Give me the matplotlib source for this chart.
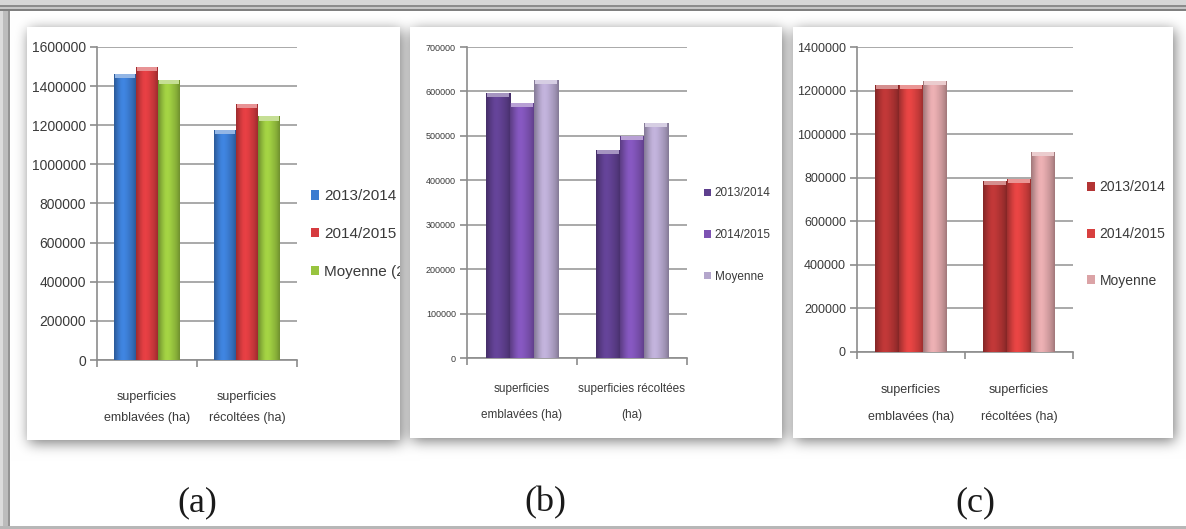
import numpy as np
import matplotlib.pyplot as plt
import matplotlib.colors as mcolors
from matplotlib.patches import Patch, Rectangle

W, H = 1186, 529

SANS = ["Liberation Sans", "DejaVu Sans"]
TEXT_COLOR = "#3a3a3a"
AXIS_COLOR = "#8c8c8c"

series_a = ["2013/2014", "2014/2015", "Moyenne (2010-2015)"]
series_bc = ["2013/2014", "2014/2015", "Moyenne"]

cats_a = ["superficies\nemblavées (ha)", "superficies\nrécoltées (ha)"]
cats_b = ["superficies\nemblavées (ha)", "superficies récoltées\n(ha)"]
cats_c = ["superficies\nemblavées (ha)", "superficies\nrécoltées (ha)"]

# (a)
a_2013 = [1460000, 1175000]
a_2014 = [1500000, 1310000]
a_moy = [1430000, 1245000]
# (b)
b_2013 = [597000, 468000]
b_2014 = [574000, 500000]
b_moy = [625000, 530000]
# (c)
c_2013 = [1225000, 785000]
c_2014 = [1225000, 795000]
c_moy = [1245000, 920000]

yticks_a = list(range(0, 1600001, 200000))
yticks_b = list(range(0, 700001, 100000))
yticks_c = list(range(0, 1400001, 200000))

colors_a = ["#3b7bd0", "#d63b3f", "#98c43f"]
colors_b = ["#5e3f8e", "#7d52b3", "#b4a6cc"]
colors_c = ["#b33434", "#d8403f", "#dba3a6"]

# white cards, in pixels: x0, y0, x1, y1
panels = [(27, 27, 400, 440), (410, 27, 782, 438), (793, 27, 1173, 438)]


def blur(a, r, n=3):
    for _ in range(n):
        for axis in (0, 1):
            pad = [(r + 1, r) if i == axis else (0, 0) for i in range(2)]
            c = np.cumsum(np.pad(a, pad, mode="edge"), axis=axis)
            L = c.shape[axis]
            a = (np.take(c, range(2 * r + 1, L), axis=axis)
                 - np.take(c, range(0, L - 2 * r - 1), axis=axis)) / (2 * r + 1)
    return a


def background(fig):
    mask = np.zeros((H, W))
    for x0, y0, x1, y1 in panels:
        mask[y0:y1, x0:x1] = 1
    shifted = np.roll(np.roll(mask, 3, axis=0), 2, axis=1)
    shadow = blur(shifted, 6)
    bg = 1 - 0.52 * shadow
    bg[mask > 0] = 1

    # outer frame
    bg[0:5, :] = 0.84
    bg[5:7, :] = 0.55
    bg[7:9, :] = 0.78
    bg[9:11, :] = 0.5
    bg[:, 0:3] = np.minimum(bg[:, 0:3], 0.86)
    bg[11:, 3:8] = np.minimum(bg[11:, 3:8], 0.74)
    bg[11:, 8:10] = np.minimum(bg[11:, 8:10], 0.58)
    bg[526:, :] = 0.72

    ax = fig.add_axes([0, 0, 1, 1], zorder=0)
    ax.imshow(np.dstack([bg] * 3), extent=(0, W, H, 0), interpolation="bilinear")
    ax.set_xlim(0, W)
    ax.set_ylim(H, 0)
    ax.axis("off")
    return ax


def shade_bar(ax, bar, color, ymax):
    rgb = np.array(mcolors.to_rgb(color))
    prof = [0.74, 0.86, 0.98, 1.07, 1.09, 1.05, 0.99, 0.93, 0.85, 0.74]
    prof = np.interp(np.linspace(0, 1, 40), np.linspace(0, 1, len(prof)), prof)
    img = np.clip(prof[:, None] * rgb[None, :], 0, 1)[None, :, :]
    x, w, h = bar.get_x(), bar.get_width(), bar.get_height()
    im = ax.imshow(img, extent=(x, x + w, 0, h), aspect="auto",
                   interpolation="bilinear", zorder=3)
    im.set_clip_path(bar)
    cap = 0.013 * ymax
    top = np.clip(rgb * 0.55 + 0.45, 0, 1)
    ax.add_patch(Rectangle((x + w * 0.04, h - cap), w * 0.92, cap,
                           color=top, zorder=4, lw=0))


def plot_panel(fig, box, data, names, colors, cats, yticks, style):
    x0, y0, x1, y1 = box
    ax = fig.add_axes([x0 / W, 1 - y1 / H, (x1 - x0) / W, (y1 - y0) / H], zorder=2)
    ax.set_facecolor("none")
    ymax = yticks[-1]

    x = np.arange(len(cats))
    width = 0.22
    for i, (vals, c) in enumerate(zip(data, colors)):
        bars = ax.bar(x + (i - 1) * width, vals, width, color=c, zorder=2, lw=0)
        for b in bars:
            shade_bar(ax, b, c, ymax)

    ax.set_xlim(-0.5, len(cats) - 0.5)
    ax.set_ylim(0, ymax)
    ax.yaxis.grid(True, color="#a3a3a3", lw=1.3)
    ax.set_axisbelow(True)
    for s in ["top", "right"]:
        ax.spines[s].set_visible(False)
    for s in ["left", "bottom"]:
        ax.spines[s].set_color(AXIS_COLOR)
        ax.spines[s].set_linewidth(1.2)

    ax.set_yticks(yticks)
    ax.set_yticklabels([str(v) for v in yticks], family=SANS,
                       fontsize=style["ysize"], color=TEXT_COLOR)
    ax.tick_params(axis="y", length=5, width=1.2, color=AXIS_COLOR, pad=3)

    ax.set_xticks(x)
    ax.set_xticklabels(cats, family=SANS, fontsize=style["xsize"],
                       color=TEXT_COLOR, linespacing=style["xspacing"])
    ax.tick_params(axis="x", which="major", length=0, pad=style["xpad"])
    ax.set_xticks(np.arange(-0.5, len(cats), 1.0), minor=True)
    ax.tick_params(axis="x", which="minor", length=5, width=1.2, color=AXIS_COLOR)

    handles = [Patch(facecolor=c, edgecolor="none") for c in colors]
    leg = ax.legend(handles, names, loc="center left",
                    bbox_to_anchor=(style["leg"][0] / W, 1 - style["leg"][1] / H),
                    bbox_transform=fig.transFigure, frameon=False,
                    borderpad=0, borderaxespad=0, handlelength=style["hsize"],
                    handleheight=style["hsize"], handletextpad=0.3,
                    labelspacing=style["legspace"],
                    prop={"family": SANS, "size": style["legsize"]})
    for t in leg.get_texts():
        t.set_color(TEXT_COLOR)
    return ax, leg


fig = plt.figure(figsize=(W / 100, H / 100), dpi=100)
bgax = background(fig)

style_a = dict(ysize=10, xsize=9, xspacing=2.05, xpad=22,
               leg=(311, 234), legspace=1.55, legsize=11, hsize=0.55)
style_b = dict(ysize=6.5, xsize=8.5, xspacing=2.6, xpad=18,
               leg=(704, 235), legspace=2.5, legsize=8.5, hsize=0.62)
style_c = dict(ysize=9, xsize=9, xspacing=2.65, xpad=23,
               leg=(1087, 234), legspace=2.35, legsize=10, hsize=0.6)

ax_a, leg_a = plot_panel(fig, (97, 47, 297, 360), [a_2013, a_2014, a_moy],
                         series_a, colors_a, cats_a, yticks_a, style_a)
ax_b, leg_b = plot_panel(fig, (467, 47, 687, 358), [b_2013, b_2014, b_moy],
                         series_bc, colors_b, cats_b, yticks_b, style_b)
ax_c, leg_c = plot_panel(fig, (857, 47, 1073, 352), [c_2013, c_2014, c_moy],
                         series_bc, colors_c, cats_c, yticks_c, style_c)

# the first legend runs past the edge of its card
x0, y0, x1, y1 = panels[0]
clip = Rectangle((x0, y0), x1 - x0, y1 - y0, transform=bgax.transData)
for t in leg_a.get_texts():
    t.set_clip_path(clip)

for label, cx in zip(["(a)", "(b)", "(c)"], [197, 545, 975]):
    fig.text(cx / W, 1 - 503 / H, label, ha="center", va="center",
             family=["Liberation Serif", "DejaVu Serif"], fontsize=26,
             color="#1a1a1a")

plt.savefig("out.png", dpi=100)
plt.close()
